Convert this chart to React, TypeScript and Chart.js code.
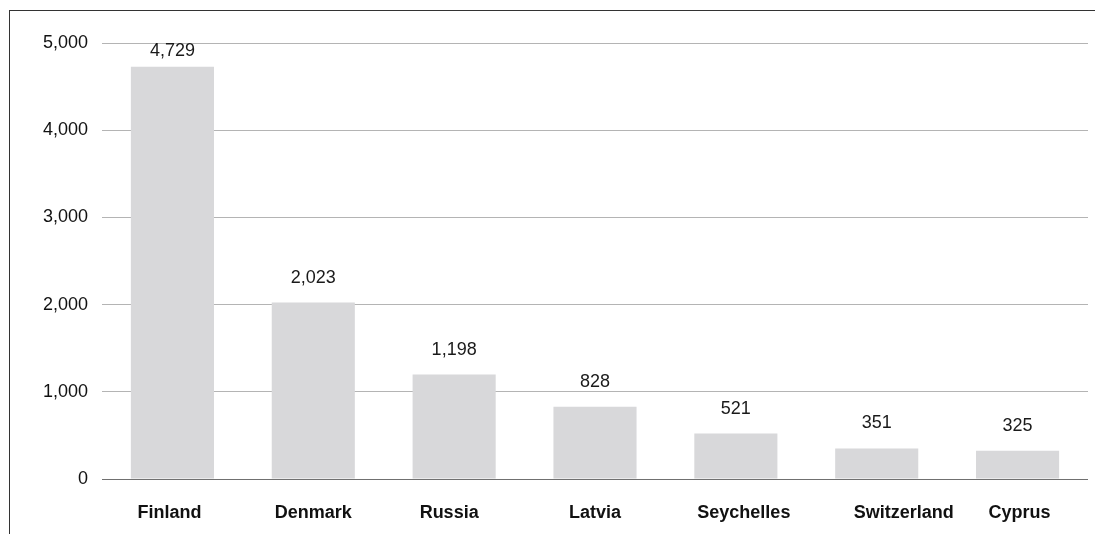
import React, { useEffect, useRef } from "react";
import { Chart, registerables } from "chart.js";

Chart.register(...registerables);

const categories = ["Finland", "Denmark", "Russia", "Latvia", "Seychelles", "Switzerland", "Cyprus"];
const values = [4729, 2023, 1198, 828, 521, 351, 325];
const yTicks = [0, 1000, 2000, 3000, 4000, 5000];

// style: horizontal nudges of the category labels (px), as in the reference layout
const labelNudge = [-3, 0, -5, 0, 8, 27, 2];

const FONT = "'Liberation Sans', Arial, Helvetica, sans-serif";

const labelsPlugin = {
  id: "labelsPlugin",
  afterDatasetsDraw(chart: any) {
    const ctx = chart.ctx;
    const meta = chart.getDatasetMeta(0);
    const xScale = chart.scales.x;
    ctx.save();
    ctx.fillStyle = "#1a1a1a";
    ctx.textAlign = "center";
    ctx.textBaseline = "middle";
    ctx.font = `18px ${FONT}`;
    meta.data.forEach((bar: any, i: number) => {
      const y = Math.max(bar.y - 25, chart.chartArea.top + 8);
      ctx.fillText(values[i].toLocaleString("en-US"), bar.x, y);
    });
    ctx.fillStyle = "#111";
    ctx.font = `bold 18px ${FONT}`;
    categories.forEach((c, i) => {
      const x = xScale.getPixelForValue(i) + labelNudge[i];
      ctx.fillText(c, x, chart.chartArea.bottom + 34);
    });
    ctx.restore();
  },
};

export default function App() {
  const ref = useRef<HTMLCanvasElement>(null);
  useEffect(() => {
    if (!ref.current) return;
    const chart = new Chart(ref.current, {
      type: "bar",
      data: {
        labels: categories,
        datasets: [
          {
            data: values,
            backgroundColor: "#d8d8da",
            borderWidth: 0,
            barPercentage: 0.59,
            categoryPercentage: 1,
          },
        ],
      },
      options: {
        animation: false,
        responsive: false,
        maintainAspectRatio: false,
        layout: { padding: { top: 43, right: 7, bottom: 0, left: 0 } },
        plugins: { legend: { display: false }, tooltip: { enabled: false } },
        scales: {
          x: {
            grid: { display: false, drawTicks: false },
            border: { display: false },
            ticks: { display: false },
            afterFit(scale: any) {
              scale.height = 55;
            },
          },
          y: {
            min: 0,
            max: 5000,
            afterBuildTicks(scale: any) {
              scale.ticks = yTicks.map((v) => ({ value: v }));
            },
            grid: {
              drawTicks: false,
              color: (c: any) => (c.index === 0 ? "#707070" : "#b4b4b4"),
              lineWidth: 1,
            },
            border: { display: false },
            ticks: {
              color: "#111",
              font: { family: FONT, size: 18 },
              padding: 14,
              callback: (v: any) => Number(v).toLocaleString("en-US"),
            },
            afterFit(scale: any) {
              scale.width = 102;
            },
          },
        },
      },
      plugins: [labelsPlugin],
    });
    return () => chart.destroy();
  }, []);

  return (
    <div style={{ position: "absolute", left: 0, top: 0, width: 1095, height: 534, background: "#fff" }}>
      <div
        style={{
          position: "absolute",
          left: 9,
          top: 10,
          width: 1086,
          height: 524,
          borderTop: "1px solid #333",
          borderLeft: "1px solid #333",
          boxSizing: "border-box",
        }}
      />
      <canvas ref={ref} width={1095} height={534} style={{ position: "absolute", left: 0, top: 0 }} />
    </div>
  );
}
